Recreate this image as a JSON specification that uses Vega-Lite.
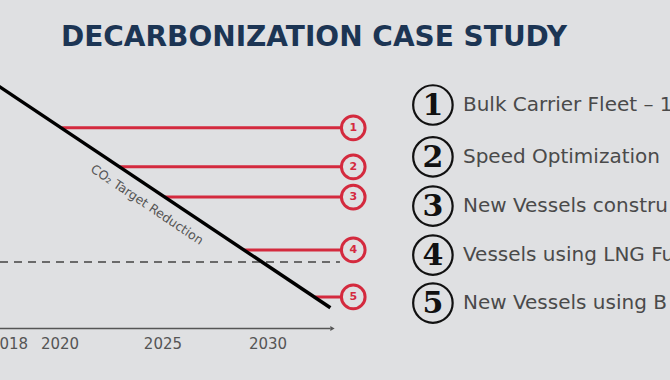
{
  "$schema": "https://vega.github.io/schema/vega-lite/v6.json",
  "width": 670,
  "height": 322,
  "autosize": "none",
  "padding": {"top": 58, "left": 0, "right": 0, "bottom": 0},
  "background": "#dfe0e2",
  "config": {"view": {"stroke": null}},
  "title": {"text": "DECARBONIZATION CASE STUDY", "fontSize": 28, "font": "DejaVu Sans", "fontWeight": "bold", "color": "#1c3554", "anchor": "middle", "offset": 6, "frame": "group", "dx": -21},
  "datasets": {
    "target": [{"year": 2016, "v": 79.8}, {"year": 2033, "v": 6.46}],
    "measures": [
      {"n": "1", "start": 2020.07, "end": 2034.1, "v": 62.3},
      {"n": "2", "start": 2022.87, "end": 2034.1, "v": 50.2},
      {"n": "3", "start": 2025.03, "end": 2034.1, "v": 40.8},
      {"n": "4", "start": 2028.85, "end": 2034.1, "v": 24.4},
      {"n": "5", "start": 2032.23, "end": 2034.1, "v": 9.8}
    ],
    "legend": [
      {"n": "1", "label": "Bulk Carrier Fleet – 1", "v": 69.4},
      {"n": "2", "label": "Speed Optimization", "v": 53.3},
      {"n": "3", "label": "New Vessels constru", "v": 38.0},
      {"n": "4", "label": "Vessels using LNG Fu", "v": 22.8},
      {"n": "5", "label": "New Vessels using B", "v": 7.9}
    ],
    "years": [
      {"pos": 2017.55, "label": "2018"},
      {"pos": 2020, "label": "2020"},
      {"pos": 2024.95, "label": "2025"},
      {"pos": 2030, "label": "2030"}
    ]
  },
  "layer": [
    {
      "data": {"values": [{"start": 2017.115, "end": 2033.46, "v": 20.65}]},
      "mark": {"type": "rule", "color": "#6a6a6a", "strokeWidth": 2, "strokeDash": [8, 6]},
      "encoding": {
        "x": {"field": "start", "type": "quantitative", "scale": {"domain": [2017.115, 2049.33], "nice": false, "zero": false}, "axis": null},
        "x2": {"field": "end"},
        "y": {"field": "v", "type": "quantitative", "scale": {"domain": [-16, 84], "nice": false, "zero": false}, "axis": null}
      }
    },
    {
      "data": {"values": [{"start": 2016, "end": 2033.0, "v": 0}]},
      "mark": {"type": "rule", "color": "#555555", "strokeWidth": 1.5, "clip": true},
      "encoding": {
        "x": {"field": "start", "type": "quantitative"},
        "x2": {"field": "end"},
        "y": {"field": "v", "type": "quantitative"}
      }
    },
    {
      "data": {"values": [{"year": 2033.1, "v": 0}]},
      "mark": {"type": "point", "shape": "triangle-right", "filled": true, "color": "#555555", "size": 25, "opacity": 1},
      "encoding": {
        "x": {"field": "year", "type": "quantitative"},
        "y": {"field": "v", "type": "quantitative"}
      }
    },
    {
      "data": {"name": "measures"},
      "mark": {"type": "rule", "color": "#d42a3e", "strokeWidth": 3},
      "encoding": {
        "x": {"field": "start", "type": "quantitative"},
        "x2": {"field": "end"},
        "y": {"field": "v", "type": "quantitative"}
      }
    },
    {
      "data": {"name": "target"},
      "mark": {"type": "line", "color": "#000000", "strokeWidth": 3.5, "clip": true},
      "encoding": {
        "x": {"field": "year", "type": "quantitative"},
        "y": {"field": "v", "type": "quantitative"}
      }
    },
    {
      "data": {"name": "measures"},
      "mark": {"type": "point", "shape": "circle", "filled": false, "fill": "#dfe0e2", "fillOpacity": 1, "stroke": "#d42a3e", "strokeWidth": 3, "size": 560, "opacity": 1},
      "encoding": {
        "x": {"field": "end", "type": "quantitative"},
        "y": {"field": "v", "type": "quantitative"}
      }
    },
    {
      "data": {"name": "measures"},
      "mark": {"type": "text", "color": "#d42a3e", "fontSize": 11, "fontWeight": "bold", "font": "DejaVu Sans", "align": "center", "baseline": "middle"},
      "encoding": {
        "x": {"field": "end", "type": "quantitative"},
        "y": {"field": "v", "type": "quantitative"},
        "text": {"field": "n"}
      }
    },
    {
      "data": {"name": "years"},
      "mark": {"type": "text", "color": "#555555", "fontSize": 15, "font": "DejaVu Sans", "align": "center", "baseline": "middle"},
      "encoding": {
        "x": {"field": "pos", "type": "quantitative"},
        "y": {"datum": -4.8, "type": "quantitative"},
        "text": {"field": "label"}
      }
    },
    {
      "data": {"values": [{"year": 2024.18, "v": 38.4, "label": "CO₂ Target Reduction"}]},
      "mark": {"type": "text", "color": "#555555", "fontSize": 12.5, "font": "DejaVu Sans", "angle": 34, "align": "center", "baseline": "middle"},
      "encoding": {
        "x": {"field": "year", "type": "quantitative"},
        "y": {"field": "v", "type": "quantitative"},
        "text": {"field": "label"}
      }
    },
    {
      "data": {"name": "legend"},
      "mark": {"type": "point", "shape": "circle", "filled": false, "stroke": "#111111", "strokeWidth": 2.2, "size": 1560, "opacity": 1},
      "encoding": {
        "x": {"datum": 2037.93, "type": "quantitative"},
        "y": {"field": "v", "type": "quantitative"}
      }
    },
    {
      "data": {"name": "legend"},
      "mark": {"type": "text", "color": "#111111", "fontSize": 30, "fontWeight": "bold", "font": "DejaVu Serif", "align": "center", "baseline": "middle", "dy": 1},
      "encoding": {
        "x": {"datum": 2037.93, "type": "quantitative"},
        "y": {"field": "v", "type": "quantitative"},
        "text": {"field": "n"}
      }
    },
    {
      "data": {"name": "legend"},
      "mark": {"type": "text", "color": "#4a4a4a", "fontSize": 20, "font": "DejaVu Sans", "align": "left", "baseline": "middle", "clip": true},
      "encoding": {
        "x": {"datum": 2039.375, "type": "quantitative"},
        "y": {"field": "v", "type": "quantitative"},
        "text": {"field": "label"}
      }
    }
  ]
}
